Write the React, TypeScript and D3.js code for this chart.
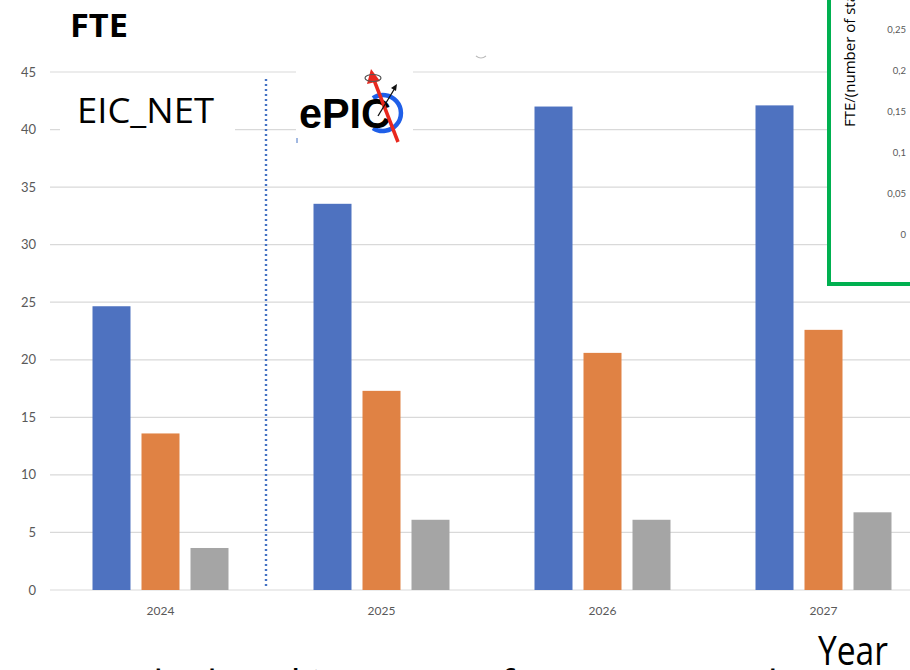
import React from "react";
import * as d3 from "d3";

// FTE per year, by series
const years = ["2024", "2025", "2026", "2027"];
const seriesKeys = ["a", "b", "c"];
const seriesA = [24.65, 33.55, 42.0, 42.1];
const seriesB = [13.6, 17.3, 20.6, 22.6];
const seriesC = [3.65, 6.1, 6.1, 6.75];
const yTicks = [0, 5, 10, 15, 20, 25, 30, 35, 40, 45];
const insetTicks = [0, 0.05, 0.1, 0.15, 0.2, 0.25];
const colors = ["#4e72c0", "#e08244", "#a5a5a5"];

const W = 910;
const H = 670;

export default function App() {
  const x0 = d3.scaleBand<string>().domain(years).range([50, 934]);
  const x1 = d3
    .scaleBand<string>()
    .domain(seriesKeys)
    .range([42.5, x0.bandwidth() - 42.5])
    .paddingInner(0.2245)
    .paddingOuter(0);
  const y = d3.scaleLinear().domain([0, 45]).range([590, 72]);
  const yInset = d3.scaleLinear().domain([0, 0.25]).range([235, 30]);
  const values = [seriesA, seriesB, seriesC];
  const fmtInset = (v: number) => String(+v.toFixed(2)).replace(".", ",");

  const axisFont = "Lato, 'Open Sans', sans-serif";

  return (
    <svg
      width={W}
      height={H}
      style={{ position: "absolute", left: 0, top: 0, display: "block", background: "#fff" }}
      fontFamily={axisFont}
    >
      <rect x={0} y={0} width={W} height={H} fill="#fff" />

      {/* gridlines */}
      {yTicks.map((t) => (
        <line
          key={"g" + t}
          x1={50}
          x2={W}
          y1={y(t)}
          y2={y(t)}
          stroke="#d9d9d9"
          strokeWidth={1.2}
        />
      ))}

      {/* y tick labels */}
      {yTicks.map((t) => (
        <text
          key={"yl" + t}
          x={36}
          y={y(t)}
          dy="0.35em"
          textAnchor="end"
          fontSize={13}
          fill="#595959"
        >
          {t}
        </text>
      ))}

      {/* bars */}
      {years.map((yr, i) => (
        <g key={yr} transform={`translate(${x0(yr)},0)`}>
          {seriesKeys.map((k, j) => (
            <rect
              key={k}
              x={x1(k)}
              y={y(values[j][i])}
              width={x1.bandwidth()}
              height={y(0) - y(values[j][i])}
              fill={colors[j]}
            />
          ))}
        </g>
      ))}

      {/* x labels */}
      {years.map((yr) => (
        <text
          key={"xl" + yr}
          x={(x0(yr) as number) + x0.bandwidth() / 2}
          y={615}
          textAnchor="middle"
          fontSize={12}
          fill="#595959"
        >
          {yr}
        </text>
      ))}

      {/* divider between periods */}
      <line
        x1={266}
        x2={266}
        y1={79}
        y2={586}
        stroke="#4472c4"
        strokeWidth={2.4}
        strokeDasharray="2 3"
      />

      {/* chart title */}
      <text x={70} y={37} fontSize={33} fontWeight={700} fill="#000" fontFamily="'Open Sans', sans-serif" textLength={58} lengthAdjust="spacingAndGlyphs">
        FTE
      </text>

      {/* EIC_NET label */}
      <rect x={60} y={80} width={175} height={58} fill="#fff" />
      <text x={77} y={123} fontSize={34} fill="#000" fontFamily="'Open Sans', sans-serif" textLength={137} lengthAdjust="spacingAndGlyphs">
        EIC_NET
      </text>

      {/* ePIC logo */}
      <rect x={296} y={52} width={117} height={88} fill="#fff" />
      <line x1={297} x2={297} y1={138} y2={143} stroke="#4472c4" strokeWidth={1} />
      <g>
        <path
          d="M 373 98 A 18 18 0 1 1 373 128"
          fill="none"
          stroke="#1f5fe8"
          strokeWidth={4.5}
        />
        <text x={299} y={128} fontSize={42} fontWeight={700} fill="#000" fontFamily="'Liberation Sans', Arial, sans-serif" textLength={92} lengthAdjust="spacingAndGlyphs">
          ePIC
        </text>
        <line x1={398} y1={142} x2={374} y2={80} stroke="#e8281e" strokeWidth={3.5} />
        <path d="M 367 84 L 371 69 L 380 81 Z" fill="#e8281e" />
        <ellipse cx={373} cy={78} rx={8} ry={3.5} fill="none" stroke="#555" strokeWidth={1.2} />
        <line x1={378} y1={116} x2={395} y2={88} stroke="#111" strokeWidth={1.3} />
        <path d="M 397 84 L 391 88 L 396 91 Z" fill="#111" />
      </g>

      {/* small mark */}
      <path d="M 476 56 Q 481 60 486 56" fill="none" stroke="#bbb" strokeWidth={1.2} />

      {/* inset panel */}
      <rect x={829} y={-10} width={100} height={294} fill="#fff" stroke="#00b050" strokeWidth={4} />
      <text
        transform="translate(855,127) rotate(-90)"
        fontSize={15}
        fill="#000"
        fontFamily="'Open Sans', sans-serif"
      >
        FTE/(number of staff)
      </text>
      {insetTicks.map((t) => (
        <text
          key={"it" + t}
          x={906}
          y={yInset(t)}
          dy="0.35em"
          textAnchor="end"
          fontSize={9.5}
          fill="#595959"
        >
          {fmtInset(t)}
        </text>
      ))}

      {/* axis title */}
      <text x={818} y={665} fontSize={40} fill="#000" fontFamily="'Open Sans', sans-serif" textLength={70} lengthAdjust="spacingAndGlyphs">
        Year
      </text>
      <text x={100} y={706} fontSize={50} fill="#000" fontFamily="'Open Sans', sans-serif" textLength={704} lengthAdjust="spacingAndGlyphs">
        (calculated in terms of person-month)
      </text>
    </svg>
  );
}
